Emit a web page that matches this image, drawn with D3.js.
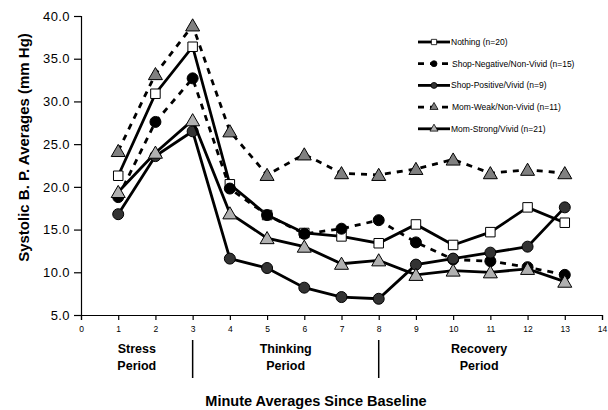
<!DOCTYPE html>
<html>
<head>
<meta charset="utf-8">
<script src="https://cdn.jsdelivr.net/npm/d3@7"></script>
<style>
  body { margin: 0; background: #fff; }
  text { font-family: "Liberation Sans", Arial, sans-serif; fill: #000; }
</style>
</head>
<body>
<div id="chart"></div>
<script>
// Data
const minutes = [1, 2, 3, 4, 5, 6, 7, 8, 9, 10, 11, 12, 13];
const nothing = [21.3, 30.9, 36.4, 20.3, 16.7, 14.6, 14.2, 13.4, 15.6, 13.2, 14.7, 17.6, 15.8];
const shopNegative = [18.8, 27.6, 32.7, 19.8, 16.7, 14.5, 15.1, 16.1, 13.5, 11.5, 11.3, 10.6, 9.7];
const shopPositive = [16.8, 23.6, 26.5, 11.6, 10.5, 8.2, 7.1, 6.9, 10.9, 11.6, 12.3, 13.0, 17.6];
const momWeak = [24.2, 33.2, 38.9, 26.5, 21.4, 23.8, 21.6, 21.4, 22.1, 23.2, 21.6, 22.0, 21.6];
const momStrong = [19.4, 24.0, 27.8, 16.9, 14.0, 13.0, 11.0, 11.4, 9.7, 10.2, 10.0, 10.4, 8.9];

const xTicks = d3.range(0, 15);
const yTicks = [5, 10, 15, 20, 25, 30, 35, 40];
const periods = [
  { label: ["Stress", "Period"], at: 1.5 },
  { label: ["Thinking", "Period"], at: 5.5 },
  { label: ["Recovery", "Period"], at: 10.7 }
];
const dividers = [3, 8];

const series = [
  { name: "Nothing (n=20)", values: nothing, shape: "square", fill: "#fff", dash: null },
  { name: "Shop-Negative/Non-Vivid (n=15)", values: shopNegative, shape: "circle", fill: "#000", dash: "6,6" },
  { name: "Shop-Positive/Vivid (n=9)", values: shopPositive, shape: "circle", fill: "#333", dash: null },
  { name: "Mom-Weak/Non-Vivid (n=11)", values: momWeak, shape: "triangle", fill: "#808080", dash: "6,6" },
  { name: "Mom-Strong/Vivid (n=21)", values: momStrong, shape: "triangle", fill: "#b0b0b0", dash: null }
];

const W = 608, H = 410;
const svg = d3.select("#chart").append("svg").attr("width", W).attr("height", H);

const x = d3.scaleLinear().domain([0, 14]).range([81, 602]);
const y = d3.scaleLinear().domain([5, 40]).range([315, 16]);

// axes
const yAxis = svg.append("g").attr("transform", "translate(81,0)")
  .call(d3.axisLeft(y).tickValues(yTicks).tickFormat(d3.format(".1f")).tickSize(7).tickPadding(4));
yAxis.selectAll("text").style("font-size", "13px").style("letter-spacing", "0.4px");

const xAxis = svg.append("g").attr("transform", "translate(0,315)")
  .call(d3.axisBottom(x).tickValues(xTicks).tickSize(5).tickPadding(6));
xAxis.selectAll("text").style("font-size", "8.5px");

svg.selectAll(".domain").attr("stroke", "#000").attr("stroke-width", 1.2);
svg.selectAll(".tick line").attr("stroke", "#000").attr("stroke-width", 1.2);

// marker symbols
function symbolFor(shape, size) {
  const t = shape === "square" ? d3.symbolSquare : shape === "circle" ? d3.symbolCircle : d3.symbolTriangle;
  return d3.symbol().type(t).size(size)();
}
const markerSize = { square: 90, circle: 95, triangle: 85 };

// series lines + markers
const line = d3.line().x((d, i) => x(minutes[i])).y(d => y(d));
series.forEach(s => {
  svg.append("path")
    .attr("d", line(s.values))
    .attr("fill", "none")
    .attr("stroke", "#000")
    .attr("stroke-width", 2.8)
    .attr("stroke-dasharray", s.dash);
  svg.append("g").selectAll("path")
    .data(s.values)
    .join("path")
    .attr("transform", (d, i) => `translate(${x(minutes[i])},${y(d) + (s.shape === "triangle" ? 1.5 : 0)})`)
    .attr("d", symbolFor(s.shape, markerSize[s.shape]))
    .attr("fill", s.fill)
    .attr("stroke", "#000")
    .attr("stroke-width", 1);
});

// legend
const legend = svg.append("g");
series.forEach((s, i) => {
  const ly = 42 + i * 21.7;
  legend.append("line")
    .attr("x1", 418).attr("x2", 450).attr("y1", ly).attr("y2", ly)
    .attr("stroke", "#000").attr("stroke-width", 2.8)
    .attr("stroke-dasharray", s.dash);
  legend.append("path")
    .attr("transform", `translate(434,${ly})`)
    .attr("d", symbolFor(s.shape, 28))
    .attr("fill", s.fill)
    .attr("stroke", "#000")
    .attr("stroke-width", 0.8);
  legend.append("text")
    .attr("x", s.dash ? 452 : 451).attr("y", ly + 3)
    .style("font-size", "8.5px")
    .text(s.name);
});

// period labels and dividers
periods.forEach(p => {
  const t = svg.append("text")
    .attr("text-anchor", "middle")
    .style("font-size", "12.5px")
    .style("font-weight", "bold");
  p.label.forEach((l, j) => {
    t.append("tspan").attr("x", x(p.at)).attr("y", 353 + j * 16.5).text(l);
  });
});
dividers.forEach(d => {
  svg.append("line")
    .attr("x1", x(d)).attr("x2", x(d)).attr("y1", 340).attr("y2", 378)
    .attr("stroke", "#000").attr("stroke-width", 1.5);
});

// axis titles
svg.append("text")
  .attr("x", 316).attr("y", 406)
  .attr("text-anchor", "middle")
  .style("font-size", "14.5px")
  .style("font-weight", "bold")
  .text("Minute Averages Since Baseline");

svg.append("text")
  .attr("transform", "translate(28.5,147.5) rotate(-90)")
  .attr("text-anchor", "middle")
  .style("font-size", "15px")
  .style("font-weight", "bold")
  .text("Systolic B. P. Averages (mm Hg)");
</script>
</body>
</html>
